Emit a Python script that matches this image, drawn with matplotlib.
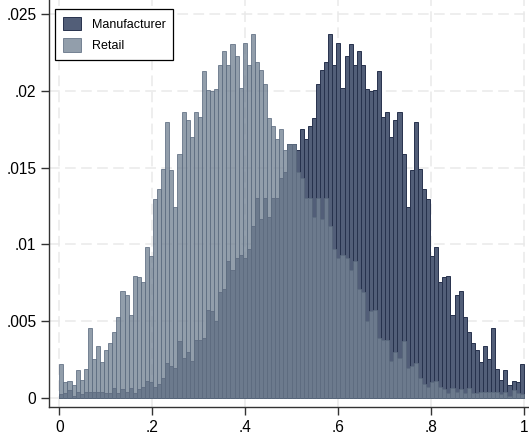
import numpy as np
import matplotlib.pyplot as plt

plt.rcParams['font.family'] = ['Liberation Sans', 'DejaVu Sans']

# fraction of observations per bin (114 equal-width bins on [0, 1])
manufacturer = [
    0.00024, 0.00028, 0.0005, 0.00012, 0.0004, 0.00024, 0.00035, 0.00037, 0.00037, 0.00037,
    0.00035, 0.0003, 0.0003, 0.0006, 0.0003, 0.00057, 0.0004, 0.00063, 0.0003, 0.00055,
    0.0007, 0.0011, 0.00105, 0.00072, 0.00087, 0.0013, 0.00224, 0.00209, 0.00191, 0.0037,
    0.0026, 0.00298, 0.00239, 0.00376, 0.00376, 0.00391, 0.00569, 0.00565, 0.005, 0.00689,
    0.00708, 0.00889, 0.0083, 0.0091, 0.00928, 0.0091, 0.0097, 0.0112, 0.013, 0.01165,
    0.013, 0.0118, 0.013, 0.013, 0.0143, 0.0147, 0.01654,
    0.01654, 0.01613, 0.0175, 0.01686, 0.01769, 0.01821, 0.02043, 0.02134, 0.02186, 0.02369,
    0.0217, 0.0231, 0.02017, 0.02225, 0.02304, 0.02172, 0.02258, 0.02167, 0.0201, 0.02,
    0.02006, 0.0213, 0.0183, 0.0186, 0.017, 0.01808, 0.0186, 0.01589, 0.01243, 0.01483,
    0.01797, 0.01489, 0.0136, 0.01295, 0.00924, 0.0098, 0.00752, 0.00785, 0.00791, 0.00537,
    0.00667, 0.00696, 0.00526, 0.00426, 0.00354, 0.0031, 0.0023, 0.00337, 0.0025, 0.00454,
    0.00185, 0.00113, 0.0018, 0.0008, 0.00109, 0.00104, 0.00217,
]

retail = [
    0.00217, 0.00104, 0.00109, 0.0008, 0.0018, 0.00113, 0.00185, 0.00454, 0.0025, 0.00337,
    0.0023, 0.0031, 0.00354, 0.00426, 0.00526, 0.00696, 0.00667, 0.00537, 0.00791, 0.00785,
    0.00752, 0.0098, 0.00924, 0.01295, 0.0136, 0.01489, 0.01797, 0.01483, 0.01243, 0.01589,
    0.0186, 0.01808, 0.017, 0.0186, 0.0183, 0.0213, 0.02006, 0.02, 0.0201, 0.02167,
    0.02258, 0.02172, 0.02304, 0.02225, 0.02017, 0.0231, 0.0217, 0.02369, 0.02186, 0.02134,
    0.02043, 0.01821, 0.01769, 0.01686, 0.0175, 0.01613, 0.01654,
    0.01654, 0.0147, 0.0143, 0.013, 0.013, 0.0118, 0.013, 0.01165, 0.013, 0.0112,
    0.0097, 0.0091, 0.00928, 0.0091, 0.0083, 0.00889, 0.00708, 0.00689, 0.005, 0.00565,
    0.00569, 0.00391, 0.00376, 0.00376, 0.00239, 0.00298, 0.0026, 0.0037, 0.00191, 0.00209,
    0.00224, 0.0013, 0.00087, 0.00072, 0.00105, 0.0011, 0.0007, 0.00055, 0.0003, 0.00063,
    0.0004, 0.00057, 0.0003, 0.0006, 0.0003, 0.0003, 0.00035, 0.00037, 0.00037, 0.00037,
    0.00035, 0.00024, 0.0004, 0.00012, 0.0005, 0.00028, 0.00024,
]

x_ticks = [0, 0.2, 0.4, 0.6, 0.8, 1]
x_labels = ['0', '.2', '.4', '.6', '.8', '1']
y_ticks = [0, 0.005, 0.01, 0.015, 0.02, 0.025]
y_labels = ['0', '.005', '.01', '.015', '.02', '.025']

n_bins = len(retail)
edges = np.linspace(0, 1, n_bins + 1)
width = edges[1] - edges[0]

fig = plt.figure(figsize=(5.29, 4.37), dpi=100)
ax = fig.add_axes([49 / 529, 29.7 / 437, 480 / 529, 407.3 / 437])

ax.bar(edges[:-1], manufacturer, width=width, align='edge',
       color='#525e78', edgecolor='#27324d', linewidth=0.7, label='Manufacturer', zorder=2)
ax.bar(edges[:-1], retail, width=width, align='edge',
       color='#748394', edgecolor='#5d6c80', linewidth=0.7, alpha=0.785, label='Retail', zorder=3)

ax.set_xlim(-0.0222, 1.0112)
ax.set_ylim(-0.000626, 0.02593)

ax.set_xticks(x_ticks)
ax.set_xticklabels(x_labels)
ax.set_yticks(y_ticks)
ax.set_yticklabels(y_labels)
ax.tick_params(axis='both', labelsize=11.2, length=6, width=1, color='#333333', pad=3)

ax.grid(True, color='#eaeaea', linestyle=(0, (7, 3.5)), linewidth=1.1, zorder=0)
ax.set_axisbelow(True)

for side in ['top', 'right']:
    ax.spines[side].set_visible(False)
for side in ['left', 'bottom']:
    ax.spines[side].set_color('#333333')
    ax.spines[side].set_linewidth(1)

leg = ax.legend(loc='upper left', bbox_to_anchor=(0.0125, 0.978), borderaxespad=0,
                fontsize=9, handlelength=1.44, handleheight=1.28, handletextpad=0.88,
                labelspacing=0.62, borderpad=0.62, fancybox=False, framealpha=1)
leg.get_frame().set_edgecolor('black')
leg.get_frame().set_linewidth(0.9)

plt.savefig('out.png', dpi=100)
